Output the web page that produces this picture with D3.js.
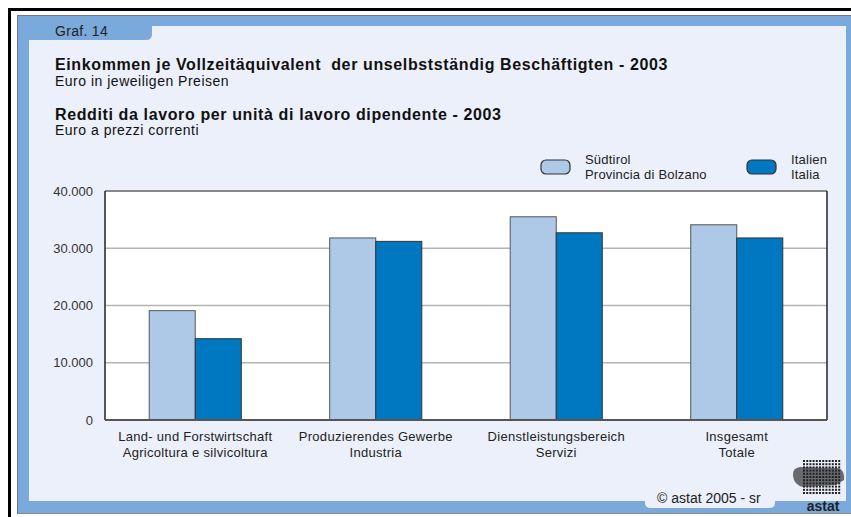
<!DOCTYPE html>
<html><head><meta charset="utf-8">
<script src="https://cdn.jsdelivr.net/npm/d3@7"></script>
<style>body{margin:0;background:#fff}svg{display:block;font-family:"Liberation Sans",Arial,sans-serif}</style>
</head><body><svg id="c" width="851" height="517"></svg>
<script>
const categoriesDe = ["Land- und Forstwirtschaft","Produzierendes Gewerbe","Dienstleistungsbereich","Insgesamt"];
const categoriesIt = ["Agricoltura e silvicoltura","Industria","Servizi","Totale"];
const suedtirol = [19100, 31800, 35500, 34100];
const italien = [14200, 31200, 32700, 31800];
const yTicks = [0, 10000, 20000, 30000, 40000];
const seriesNames = [["Südtirol","Provincia di Bolzano"],["Italien","Italia"]];
const colors = ["#aec8e8","#0078c1"];

const svg = d3.select("#c");
// outer frame
svg.append("line").attr("x1",9).attr("x2",851).attr("y1",9.5).attr("y2",9.5).attr("stroke","#000").attr("stroke-width",3);
svg.append("line").attr("x1",9.5).attr("x2",9.5).attr("y1",8).attr("y2",517).attr("stroke","#000").attr("stroke-width",3);
// blue panel
svg.append("rect").attr("x",18).attr("y",16).attr("width",833).attr("height",497).attr("fill","#7aaadb");
svg.append("line").attr("x1",18).attr("x2",851).attr("y1",15.5).attr("y2",15.5).attr("stroke","#777");
svg.append("line").attr("x1",18).attr("x2",851).attr("y1",513.5).attr("y2",513.5).attr("stroke","#888");
svg.append("line").attr("x1",17.5).attr("x2",17.5).attr("y1",15).attr("y2",514).attr("stroke","#777");
// light panel with tab cutouts
const light = "#ecf0fa";
svg.append("path").attr("fill",light).attr("d",
  "M29,40 L146,40 Q152,40 152,34 L152,26 L846,26 L846,501 L775,501 L775,503 Q775,508 769,508 L651,508 Q645,508 645,503 L645,501 L29,501 Z");
svg.append("text").attr("x",55).attr("y",36).attr("font-size",14).attr("letter-spacing",0.3).attr("fill","#222").text("Graf. 14");

// titles
const t = svg.append("g").attr("fill","#111");
t.append("text").attr("x",55).attr("y",70).attr("font-size",16).attr("letter-spacing",0.62).attr("font-weight","bold").attr("xml:space","preserve").text("Einkommen je Vollzeitäquivalent  der unselbstständig Beschäftigten - 2003");
t.append("text").attr("x",55).attr("y",86).attr("font-size",14).attr("letter-spacing",0.5).text("Euro in jeweiligen Preisen");
t.append("text").attr("x",55).attr("y",120).attr("font-size",16).attr("letter-spacing",0.62).attr("font-weight","bold").text("Redditi da lavoro per unità di lavoro dipendente - 2003");
t.append("text").attr("x",55).attr("y",135).attr("font-size",14).attr("letter-spacing",0.5).text("Euro a prezzi correnti");

// legend
const legX = [541, 747];
seriesNames.forEach((n,i)=>{
  svg.append("rect").attr("x",legX[i]).attr("y",160).attr("width",29).attr("height",14).attr("rx",5)
    .attr("fill",colors[i]).attr("stroke","#333").attr("stroke-width",1.2);
  n.forEach((s,j)=>svg.append("text").attr("x",legX[i]+44).attr("y",164+j*15).attr("font-size",13).attr("letter-spacing",0.2).attr("fill","#222").text(s));
});

// plot
const L=105, R=827, T=191, B=420;
svg.append("rect").attr("x",L).attr("y",T).attr("width",R-L).attr("height",B-T).attr("fill","#fff");
const x = d3.scaleBand().domain(d3.range(categoriesDe.length)).range([L,R]).paddingInner(0.49).paddingOuter(0.245);
const y = d3.scaleLinear().domain([0,40000]).range([B,T]);
const fmt = v => v===0 ? "0" : d3.format(",")(v).replace(/,/g,".");
const yAxis = svg.append("g").attr("transform",`translate(${L},0)`)
  .call(d3.axisLeft(y).tickValues(yTicks).tickSize(0).tickPadding(12).tickFormat(fmt));
yAxis.select(".domain").remove();
yAxis.selectAll("text").attr("font-size",13).attr("fill","#333").attr("font-family","Liberation Sans, Arial, sans-serif");
svg.append("g").selectAll("line").data(yTicks.filter(v=>v>0&&v<40000)).join("line")
  .attr("x1",L).attr("x2",R).attr("y1",d=>y(d)).attr("y2",d=>y(d)).attr("stroke","#b4b4b4").attr("stroke-width",1.5);
svg.append("line").attr("x1",L).attr("x2",R).attr("y1",T).attr("y2",T).attr("stroke","#888").attr("stroke-width",2);

const bw = x.bandwidth()/2;
const strokes = ["#555","#333"];
[suedtirol, italien].forEach((vals,si)=>{
  svg.append("g").selectAll("rect").data(vals).join("rect")
    .attr("x",(d,i)=>x(i)+si*bw).attr("y",d=>y(d)).attr("width",bw).attr("height",d=>B-y(d))
    .attr("fill",colors[si]).attr("stroke",strokes[si]).attr("stroke-width",1);
});
svg.append("line").attr("x1",L).attr("x2",L).attr("y1",T).attr("y2",B).attr("stroke","#222").attr("stroke-width",1.5);
svg.append("line").attr("x1",R).attr("x2",R).attr("y1",T).attr("y2",B).attr("stroke","#222").attr("stroke-width",1.5);
svg.append("line").attr("x1",L).attr("x2",R).attr("y1",B).attr("y2",B).attr("stroke","#555").attr("stroke-width",2);

const xl = svg.append("g").attr("font-size",13).attr("letter-spacing",0.3).attr("fill","#222").attr("text-anchor","middle");
categoriesDe.forEach((c,i)=>{
  const cx = x(i)+x.bandwidth()/2;
  xl.append("text").attr("x",cx).attr("y",441).text(c);
  xl.append("text").attr("x",cx).attr("y",457).text(categoriesIt[i]);
});

// footer
svg.append("text").attr("x",657).attr("y",503).attr("font-size",14).attr("fill","#222").text("© astat 2005 - sr");
// logo
const lg = svg.append("g").attr("fill","#222");
lg.append("path").attr("d","M793,476 Q792,468 800,467 L838,468 Q845,470 844,480 L836,485 L803,487 Q794,485 793,476 Z").attr("fill","#111").attr("opacity",0.6);
for(let r=0;r<11;r++) for(let c=0;c<12;c++){
  lg.append("rect").attr("x",803+c*3.2).attr("y",460+r*3.2).attr("width",2).attr("height",2).attr("fill","#222");
}
lg.append("text").attr("x",823).attr("y",511).attr("text-anchor","middle").attr("font-size",14).attr("font-weight","bold").text("astat");
</script></body></html>
